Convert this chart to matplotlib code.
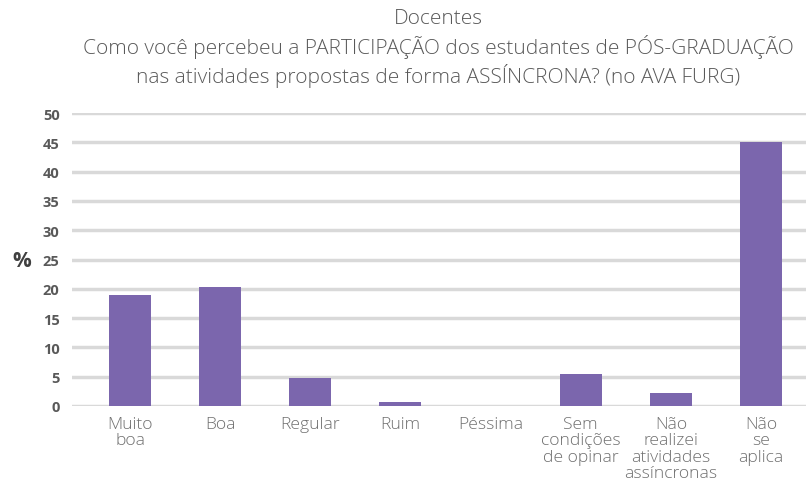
import matplotlib.pyplot as plt

# dados
categorias = ["Muito\nboa", "Boa", "Regular", "Ruim", "Péssima",
              "Sem\ncondições\nde opinar", "Não\nrealizei\natividades\nassíncronas",
              "Não\nse\naplica"]
valores = [19.0, 20.3, 4.8, 0.7, 0.0, 5.5, 2.2, 45.1]
yticks = [0, 5, 10, 15, 20, 25, 30, 35, 40, 45, 50]

titulo = ("Docentes\nComo você percebeu a PARTICIPAÇÃO dos estudantes de PÓS-GRADUAÇÃO\n"
          "nas atividades propostas de forma ASSÍNCRONA? (no AVA FURG)")

plt.rcParams['font.family'] = ['Open Sans', 'DejaVu Sans']

fig = plt.figure(figsize=(8.09, 4.85), dpi=100)
ax = fig.add_axes([72/809, 1 - 407/485, (806-72)/809, (407-114)/485])

x = range(len(categorias))
ax.bar(x, valores, width=0.467, color='#7b66ad', zorder=3)

ax.set_ylim(0, 50)
ax.set_xlim(-0.5 - 13/90, len(categorias) - 0.5)
ax.set_yticks(yticks)
ax.set_yticklabels([str(v) for v in yticks], fontsize=10.5, fontweight='bold', color='#595959')
ax.set_xticks(list(x))
ax.set_xticklabels(categorias, fontsize=12.6, fontweight='light', color='#707070',
                   linespacing=1.04)
ax.tick_params(axis='both', length=0)
ax.tick_params(axis='y', pad=9)
ax.tick_params(axis='x', pad=7)

ax.grid(axis='y', color='#d9d9d9', linewidth=2.5, zorder=0)
for s in ax.spines.values():
    s.set_visible(False)

fig.text(22/809, 1 - 262/485, "%", fontsize=15, fontweight='bold', color='#404040',
         ha='center', va='center')
fig.text(438/809, 1 - 9/485, titulo, fontsize=15, fontweight='light', color='#595959',
         ha='center', va='top', multialignment='center', linespacing=1.3)

fig.savefig("out.png", dpi=100)
